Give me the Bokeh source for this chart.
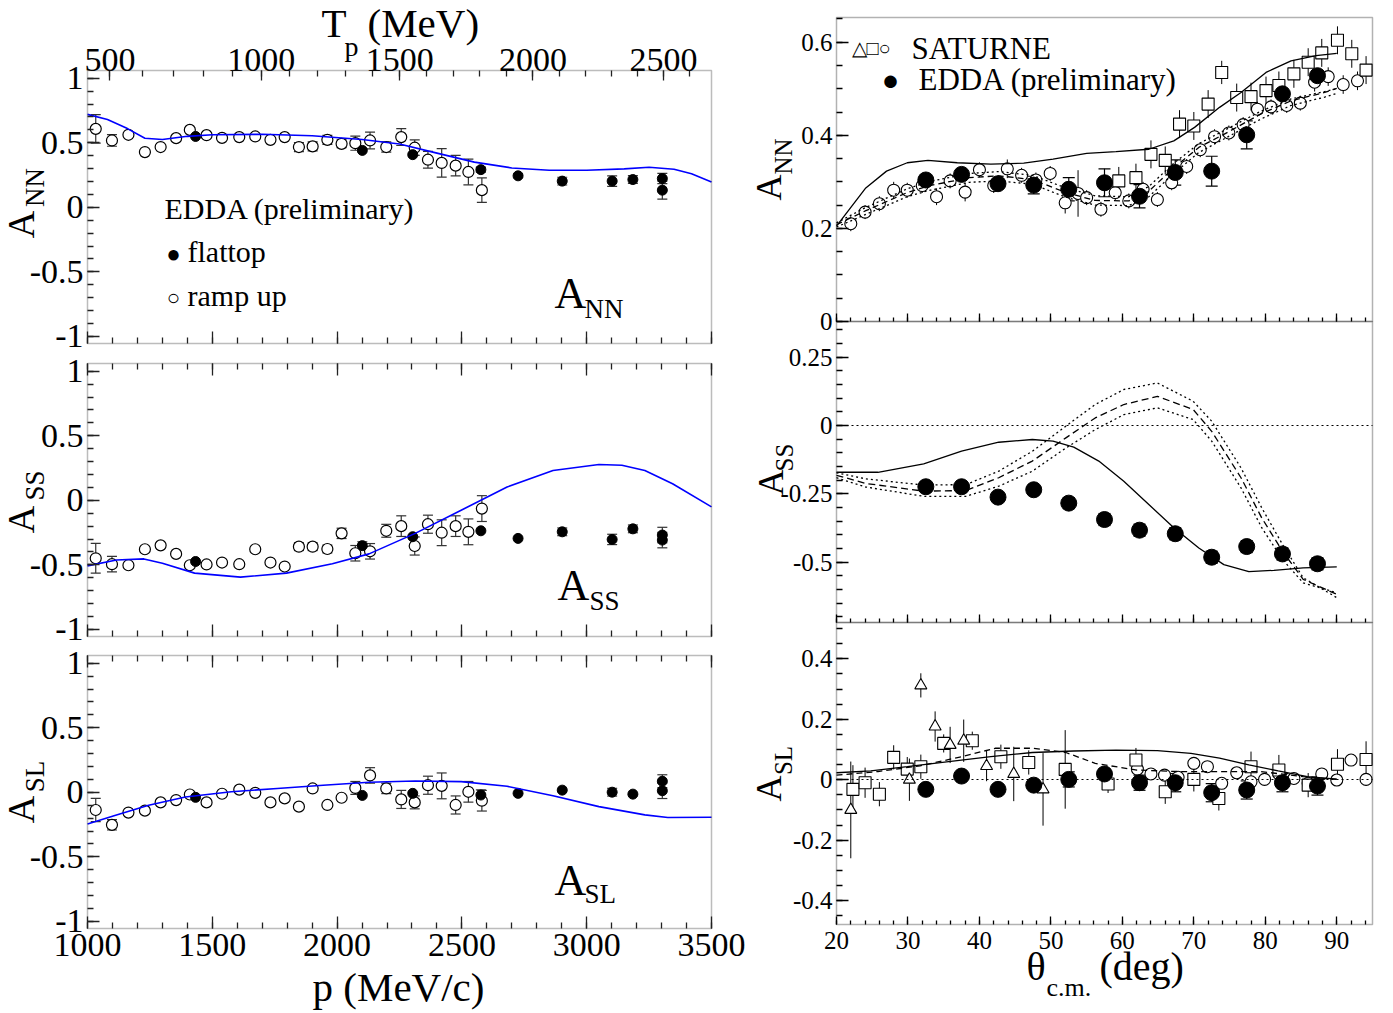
import math
from bokeh.plotting import figure
from bokeh.models import (Range1d, LinearAxis, FixedTicker, Whisker, TeeHead, ColumnDataSource,
                          Label, BoxAnnotation, CustomJSTickFormatter)
from bokeh.embed import file_html
from bokeh.resources import INLINE

FONT = "Liberation Serif"
M_P = 938.272

# ---------------- left column: vs beam momentum p (MeV/c) ----------------
p_ramp = [1033, 1098, 1164, 1230, 1293, 1355, 1410, 1477, 1539, 1608, 1672, 1733, 1790, 1847,
          1902, 1961, 2018, 2073, 2132, 2197, 2257, 2311, 2364, 2419, 2475, 2526, 2580]
ann_ramp = [0.608, 0.518, 0.562, 0.428, 0.467, 0.536, 0.600, 0.559, 0.538, 0.544, 0.549, 0.523, 0.544, 0.467,
            0.472, 0.523, 0.492, 0.497, 0.518, 0.467, 0.544, 0.462, 0.369, 0.344, 0.323, 0.274, 0.133]
ann_ramp_err = [0.11, 0.045, 0, 0, 0, 0, 0, 0, 0, 0, 0, 0, 0, 0.035,
                0.035, 0.035, 0.03, 0.055, 0.065, 0.04, 0.065, 0.06, 0.065, 0.11, 0.08, 0.10, 0.095]
ass_ramp = [-0.449, -0.495, -0.503, -0.379, -0.349, -0.415, -0.503, -0.497, -0.482, -0.495, -0.379, -0.482, -0.513, -0.359,
            -0.359, -0.377, -0.256, -0.410, -0.395, -0.236, -0.200, -0.354, -0.185, -0.251, -0.200, -0.244, -0.064]
ass_ramp_err = [0.115, 0.06, 0, 0, 0, 0, 0, 0, 0, 0, 0, 0, 0, 0.03,
                0.03, 0.03, 0.04, 0.06, 0.06, 0.05, 0.08, 0.07, 0.07, 0.10, 0.08, 0.10, 0.10]
asl_ramp = [-0.137, -0.252, -0.157, -0.142, -0.078, -0.060, -0.017, -0.078, -0.011, 0.021, -0.004, -0.078, -0.047, -0.111,
            0.030, -0.098, -0.042, 0.034, 0.131, 0.030, -0.055, -0.078, 0.055, 0.050, -0.098, 0.004, -0.065]
asl_ramp_err = [0.09, 0.04, 0, 0, 0, 0, 0, 0, 0, 0, 0, 0, 0, 0,
                0, 0, 0, 0.05, 0.06, 0.04, 0.07, 0.05, 0.07, 0.10, 0.07, 0.08, 0.08]

p_flat = [1433, 2101, 2303, 2576, 2725, 2902, 3102, 3185, 3303, 3303]
ann_flat = [0.549, 0.441, 0.408, 0.292, 0.244, 0.203, 0.203, 0.215, 0.223, 0.133]
ann_flat_err = [0, 0, 0, 0.02, 0.015, 0.03, 0.04, 0.03, 0.04, 0.07]
ass_flat = [-0.474, -0.351, -0.282, -0.236, -0.295, -0.244, -0.303, -0.221, -0.269, -0.308]
ass_flat_err = [0, 0.03, 0, 0, 0, 0.03, 0.04, 0.03, 0.06, 0.06]
asl_flat = [-0.039, -0.024, -0.008, -0.021, -0.008, 0.017, 0.001, -0.014, 0.086, 0.012]
asl_flat_err = [0, 0, 0, 0.04, 0, 0, 0.03, 0, 0.05, 0.06]

ann_curve_p = [1000, 1080, 1160, 1230, 1300, 1400, 1500, 1700, 1900, 2100, 2250, 2400, 2550, 2700,
               2850, 3000, 3150, 3250, 3350, 3420, 3500]
ann_curve = [0.72, 0.68, 0.61, 0.535, 0.525, 0.55, 0.562, 0.566, 0.555, 0.525, 0.49, 0.42, 0.35, 0.305,
             0.287, 0.287, 0.298, 0.31, 0.295, 0.26, 0.197]
ass_curve_p = [1000, 1116, 1226, 1300, 1429, 1613, 1797, 1981, 2128, 2313, 2497, 2681, 2865, 3049,
               3141, 3233, 3344, 3500]
ass_curve = [-0.508, -0.462, -0.454, -0.487, -0.564, -0.595, -0.564, -0.492, -0.415, -0.256, -0.077, 0.103,
             0.231, 0.277, 0.272, 0.231, 0.128, -0.051]
asl_curve_p = [1000, 1116, 1245, 1392, 1576, 1760, 1944, 2128, 2313, 2497, 2681, 2865, 3049, 3233, 3325, 3500]
asl_curve = [-0.245, -0.176, -0.100, -0.036, 0.004, 0.030, 0.055, 0.078, 0.088, 0.083, 0.047, -0.027,
             -0.111, -0.175, -0.195, -0.193]

p_major = [1000, 1500, 2000, 2500, 3000, 3500]
p_minor = list(range(1000, 3501, 100))
T_major = [500, 1000, 1500, 2000, 2500]
T_minor = list(range(400, 2801, 100))
a_major = [-1, -0.5, 0, 0.5, 1]
a_minor = [-1, -0.9, -0.8, -0.7, -0.6, -0.5, -0.4, -0.3, -0.2, -0.1, 0, 0.1, 0.2, 0.3, 0.4, 0.5,
           0.6, 0.7, 0.8, 0.9, 1]

# ---------------- right column: vs theta_cm (deg) ----------------
theta_edda = [32.5, 37.5, 42.6, 47.6, 52.5, 57.5, 62.4, 67.4, 72.5, 77.4, 82.4, 87.3]
ann_edda = [0.304, 0.316, 0.296, 0.293, 0.284, 0.298, 0.269, 0.320, 0.323, 0.401, 0.489, 0.528]
ann_edda_err = [0, 0, 0, 0.019, 0.025, 0.03, 0.025, 0.027, 0.032, 0.03, 0, 0]
ass_edda = [-0.224, -0.224, -0.262, -0.235, -0.284, -0.344, -0.383, -0.396, -0.482, -0.443, -0.470, -0.506]
ass_edda_err = [0, 0, 0, 0, 0.02, 0.022, 0.022, 0.022, 0.022, 0.022, 0.022, 0.022]
asl_edda = [-0.032, 0.012, -0.032, -0.018, 0.001, 0.019, -0.010, -0.010, -0.043, -0.034, -0.010, -0.021]
asl_edda_err = [0, 0, 0, 0, 0.025, 0, 0.025, 0.03, 0.03, 0.03, 0.03, 0.03]

theta_sat_c_ann = [22.0, 24.0, 26.0, 28.0, 29.9, 32.0, 34.0, 35.9, 38.0, 40.0, 42.0, 43.9, 45.9, 47.9, 49.9,
                   52.0, 53.8, 55.0, 57.0, 59.0, 60.9, 62.9, 64.9, 66.9, 69.0, 70.9, 72.9, 74.9, 76.9, 78.9,
                   80.8, 83.0, 84.9, 86.9, 88.8, 90.9, 92.9]
ann_sat_c = [0.210, 0.235, 0.253, 0.282, 0.282, 0.292, 0.268, 0.302, 0.278, 0.326, 0.292, 0.328, 0.314, 0.304, 0.318,
             0.255, 0.275, 0.266, 0.241, 0.277, 0.259, 0.284, 0.262, 0.298, 0.333, 0.369, 0.397, 0.405, 0.423, 0.456,
             0.461, 0.464, 0.469, 0.514, 0.526, 0.509, 0.517]
ann_sat_c_err = [0.016, 0.015, 0.016, 0.018, 0.016, 0.016, 0.018, 0.016, 0.02, 0.016, 0.016, 0.02, 0.016, 0.016, 0.016,
                 0.023, 0.05, 0.016, 0.016, 0.016, 0.016, 0.016, 0.016, 0.016, 0.016, 0.016, 0.016, 0.016, 0.016, 0.016,
                 0.016, 0.016, 0.016, 0.02, 0.02, 0.02, 0.02]
theta_sat_s_ann = [59.5, 61.9, 64.0, 66.0, 68.0, 70.0, 72.0, 73.9, 76.0, 78.0, 80.1, 81.9, 84.0, 86.0, 87.9,
                   90.1, 92.1, 94.1]
ann_sat_s = [0.302, 0.309, 0.359, 0.346, 0.424, 0.420, 0.467, 0.535, 0.481, 0.483, 0.496, 0.507, 0.532, 0.557,
             0.577, 0.604, 0.575, 0.540]
ann_sat_s_err = [0.03, 0.03, 0.03, 0.03, 0.03, 0.03, 0.03, 0.025, 0.03, 0.03, 0.03, 0.03, 0.03, 0.03, 0.03,
                 0.03, 0.03, 0.03]

th_ann_solid = [20, 24.1, 27, 29.9, 32.8, 36.9, 41.6, 46.2, 50.3, 55, 59.1, 63.7, 67.2, 70.1, 73.6, 76.6,
                80.1, 83.6, 87.1, 90]
ann_solid = [0.205, 0.287, 0.323, 0.341, 0.346, 0.341, 0.338, 0.340, 0.349, 0.361, 0.365, 0.370, 0.388, 0.417,
             0.460, 0.492, 0.535, 0.560, 0.571, 0.576]
th_ann_band = [20, 24.1, 29.9, 32.8, 38.6, 42.7, 47.4, 52.1, 56.2, 60.9, 63.7, 67.2, 70.7, 74.2, 79.4, 83.6, 88.3, 90]
ann_dash = [0.208, 0.238, 0.277, 0.291, 0.309, 0.313, 0.305, 0.277, 0.260, 0.259, 0.280, 0.330, 0.374, 0.402,
            0.446, 0.474, 0.492, 0.501]
ann_dot_hi = [0.212, 0.245, 0.285, 0.300, 0.318, 0.322, 0.314, 0.287, 0.270, 0.268, 0.290, 0.340, 0.382, 0.410,
              0.452, 0.478, 0.494, 0.500]
ann_dot_lo = [0.203, 0.230, 0.268, 0.281, 0.299, 0.302, 0.295, 0.267, 0.250, 0.249, 0.268, 0.318, 0.363, 0.392,
              0.435, 0.464, 0.482, 0.490]

th_ass_solid = [20, 25.8, 32.2, 37.5, 42.7, 47.4, 50.3, 53.2, 56.7, 60.2, 63.7, 67.2, 70.7, 74.2, 77.7, 81.2, 85.3, 90]
ass_solid = [-0.171, -0.171, -0.140, -0.094, -0.061, -0.051, -0.057, -0.079, -0.130, -0.204, -0.289, -0.374,
             -0.448, -0.509, -0.535, -0.530, -0.521, -0.517]
th_ass_band = [20, 24.1, 32.2, 38.1, 42.7, 47.4, 52.1, 56.2, 60.2, 64.9, 69.9, 72.5, 76.6, 79.5, 82.4, 85.3, 90]
ass_dash = [-0.182, -0.212, -0.240, -0.238, -0.191, -0.130, -0.045, 0.028, 0.077, 0.107, 0.059, -0.021,
            -0.191, -0.338, -0.460, -0.563, -0.618]
ass_dot_hi = [-0.173, -0.195, -0.218, -0.216, -0.167, -0.094, -0.002, 0.077, 0.132, 0.156, 0.089, 0.016,
              -0.155, -0.301, -0.435, -0.557, -0.630]
ass_dot_lo = [-0.191, -0.225, -0.259, -0.259, -0.222, -0.167, -0.082, -0.015, 0.040, 0.065, 0.022, -0.057,
              -0.228, -0.374, -0.490, -0.576, -0.612]

theta_sat_t_asl = [22.0, 30.2, 31.8, 33.8, 35.9, 37.8, 41.0, 44.8, 48.9]
asl_sat_t = [-0.100, 0.000, 0.312, 0.176, 0.115, 0.129, 0.045, 0.019, -0.032]
asl_sat_t_err = [0.16, 0.07, 0.04, 0.05, 0.06, 0.07, 0.05, 0.09, 0.12]
theta_sat_s_asl = [22.3, 24.0, 26.0, 28.0, 29.9, 31.8, 35.0, 39.0, 43.0, 46.9, 52.0, 58.0, 61.9, 66.0, 70.0,
                   73.5, 78.0, 81.9, 86.0, 90.1, 94.1]
asl_sat_s = [-0.032, -0.010, -0.048, 0.074, 0.035, 0.043, 0.120, 0.129, 0.076, 0.057, 0.034, -0.014, 0.065,
             -0.040, 0.001, -0.062, 0.043, 0.032, -0.018, 0.051, 0.067]
asl_sat_s_err = [0.08, 0.05, 0.04, 0.04, 0.04, 0.04, 0.03, 0.03, 0.04, 0.04, 0.13, 0.03, 0.04, 0.04, 0.04,
                 0.04, 0.05, 0.05, 0.04, 0.05, 0.06]
theta_sat_c_asl = [62.1, 64.0, 65.9, 67.8, 70.0, 71.9, 73.9, 76.0, 78.0, 79.9, 81.9, 84.0, 86.0, 87.9, 90.0, 92.0, 94.1]
asl_sat_c = [0.035, 0.019, 0.015, 0.008, 0.054, 0.043, -0.012, 0.023, -0.007, 0.001, 0.019, 0.004, -0.012,
             0.019, -0.001, 0.065, 0.001]
asl_sat_c_err = [0.012, 0.01, 0.01, 0.01, 0.012, 0.01, 0.012, 0.01, 0.012, 0.01, 0.01, 0.01, 0.01, 0.01, 0.012,
                 0.01, 0.02]

th_asl_solid = [20, 24.8, 29.9, 35.7, 41.6, 47.4, 53.2, 59.1, 64.9, 69.6, 73.6, 77.7, 81.8, 85.9, 90]
asl_solid = [0.023, 0.029, 0.043, 0.060, 0.076, 0.090, 0.095, 0.098, 0.096, 0.087, 0.071, 0.049, 0.029, 0.010, 0.002]
th_asl_dash = [20, 25.8, 31.7, 37.5, 42.2, 47.4, 52.1, 56.2, 62, 67.8, 73.6, 79.4, 85.3, 90]
asl_dash = [0.015, 0.027, 0.046, 0.076, 0.104, 0.104, 0.090, 0.054, 0.032, 0.027, 0.027, 0.027, 0.010, 0.001]

th_major = [20, 30, 40, 50, 60, 70, 80, 90]
th_minor = list(range(20, 96, 2))
ann_r_major = [0, 0.2, 0.4, 0.6]
ann_r_minor = [0, 0.05, 0.1, 0.15, 0.2, 0.25, 0.3, 0.35, 0.4, 0.45, 0.5, 0.55, 0.6, 0.65]
ass_r_major = [-0.5, -0.25, 0, 0.25]
ass_r_minor = [-0.7, -0.65, -0.6, -0.55, -0.5, -0.45, -0.4, -0.35, -0.3, -0.25, -0.2, -0.15, -0.1, -0.05,
               0, 0.05, 0.1, 0.15, 0.2, 0.25, 0.3, 0.35]
asl_r_major = [-0.4, -0.2, 0, 0.2, 0.4]
asl_r_minor = [-0.45, -0.4, -0.35, -0.3, -0.25, -0.2, -0.15, -0.1, -0.05, 0, 0.05, 0.1, 0.15, 0.2, 0.25,
               0.3, 0.35, 0.4, 0.45, 0.5]

# ---------------- page geometry (pixels) ----------------
W, H = 1392, 1012
LX = (87, 711)
LY = [(70, 343), (363, 636), (655, 928)]
RX = (836, 1372)
RY = [(17, 321), (321, 622), (622, 924)]
L_XD = (1000, 3500)
L_YD = (-1.055, 1.06)
R_XD = (20, 95)
R_YD = [(0, 0.653), (-0.721, 0.381), (-0.479, 0.52)]


def xrange_for(d, box):
    u = (d[1] - d[0]) / (box[1] - box[0])
    return Range1d(d[0] - box[0] * u, d[1] + (W - box[1]) * u)


def yrange_for(d, box):
    u = (d[1] - d[0]) / (box[1] - box[0])
    return Range1d(d[0] - (H - box[1]) * u, d[1] + box[0] * u)


def p_of_T(T):
    return math.sqrt(T * T + 2 * M_P * T)


f = figure(width=W, height=H, x_range=Range1d(0, W), y_range=Range1d(H, 0),
           x_axis_location=None, y_axis_location=None, output_backend="svg", toolbar_location=None,
           min_border=0, min_border_left=0, min_border_right=0, min_border_top=0, min_border_bottom=0,
           background_fill_color="white", border_fill_color="white", outline_line_color=None)
f.grid.visible = False

YN_L = ["ann_l", "ass_l", "asl_l"]
YN_R = ["ann_r", "ass_r", "asl_r"]
f.extra_x_ranges = {"p": xrange_for(L_XD, LX), "th": xrange_for(R_XD, RX)}
f.extra_y_ranges = {**{n: yrange_for(L_YD, b) for n, b in zip(YN_L, LY)},
                    **{n: yrange_for(d, b) for n, d, b in zip(YN_R, R_YD, RY)}}

PLAIN = CustomJSTickFormatter(code="return tick.toString();")


def tick_axis(side, xn, yn, loc, bounds, positions, length, color, dash=None, lw=1.3):
    ax = LinearAxis(x_range_name=xn, y_range_name=yn, fixed_location=loc, bounds=bounds,
                    ticker=FixedTicker(ticks=[], minor_ticks=positions))
    ax.major_tick_in = 0
    ax.major_tick_out = 0
    ax.minor_tick_in = length
    ax.minor_tick_out = 0
    ax.minor_tick_line_color = color
    ax.minor_tick_line_width = 1.3
    if dash is None:
        ax.axis_line_color = None
    else:
        ax.axis_line_color = color
        ax.axis_line_dash = dash
        ax.axis_line_width = lw
    f.add_layout(ax, side)


def label_axis(side, xn, yn, loc, bounds, majors, minors, tin, tmin, size, standoff, color, fmt):
    ax = LinearAxis(x_range_name=xn, y_range_name=yn, fixed_location=loc, bounds=bounds,
                    ticker=FixedTicker(ticks=majors, minor_ticks=minors), formatter=fmt)
    ax.major_tick_in = tin
    ax.major_tick_out = 0
    ax.minor_tick_in = tmin
    ax.minor_tick_out = 0
    ax.major_tick_line_color = color
    ax.minor_tick_line_color = color
    ax.major_tick_line_width = 1.3
    ax.minor_tick_line_width = 1.3
    ax.axis_line_color = None
    ax.major_label_text_font = FONT
    ax.major_label_text_font_size = f"{size}px"
    ax.major_label_text_color = "black"
    ax.major_label_standoff = standoff
    f.add_layout(ax, side)


def frame_box(xb, yb, color):
    f.add_layout(BoxAnnotation(left=xb[0], right=xb[1], top=yb[0], bottom=yb[1], fill_color=None,
                               line_color=color, line_width=1.5))


def txt(x, y, s, size, align="left", angle=0.0):
    f.add_layout(Label(x=x, y=y, text=s, text_font=FONT, text_font_size=f"{size}px",
                       text_align=align, text_baseline="middle", angle=angle, text_color="black"))


def whiskers(xn, yn, xs, ys, es, color, cap):
    keep = [(x, y, e) for x, y, e in zip(xs, ys, es) if e > 0]
    src = ColumnDataSource(dict(x=[k[0] for k in keep], lo=[k[1] - k[2] for k in keep],
                                hi=[k[1] + k[2] for k in keep]))
    f.add_layout(Whisker(source=src, base="x", lower="lo", upper="hi", line_color=color, line_width=1.2,
                         level="underlay", x_range_name=xn, y_range_name=yn,
                         upper_head=TeeHead(size=cap, line_color=color, line_width=1.2),
                         lower_head=TeeHead(size=cap, line_color=color, line_width=1.2)))


def bars(xn, yn, xs, ys, es):
    f.segment(x0=xs, x1=xs, y0=[y - e for y, e in zip(ys, es)], y1=[y + e for y, e in zip(ys, es)],
              line_color="black", line_width=1.0, x_range_name=xn, y_range_name=yn)


# ---------------- left column ----------------
LC = "#222"
T_fmt = CustomJSTickFormatter(code="const m = 938.272; return Math.round(Math.sqrt(tick*tick + m*m) - m).toString();")
left_sets = [
    (ann_ramp, ann_ramp_err, ann_flat, ann_flat_err, ann_curve_p, ann_curve),
    (ass_ramp, ass_ramp_err, ass_flat, ass_flat_err, ass_curve_p, ass_curve),
    (asl_ramp, asl_ramp_err, asl_flat, asl_flat_err, asl_curve_p, asl_curve),
]
for i, (yn, (ramp, ramp_e, flat, flat_e, cp, cv)) in enumerate(zip(YN_L, left_sets)):
    whiskers("p", yn, p_ramp, ramp, ramp_e, "#333", 10)
    whiskers("p", yn, p_flat, flat, flat_e, "#333", 10)
    f.scatter(p_ramp, ramp, marker="circle", size=11, fill_color="white", line_color="black", line_width=1.2,
              x_range_name="p", y_range_name=yn)
    f.scatter(p_flat, flat, marker="circle", size=10, fill_color="black", line_color="black",
              x_range_name="p", y_range_name=yn)
    f.line(cp, cv, line_color="#0000ff", line_width=1.6, x_range_name="p", y_range_name=yn)
    label_axis("left", "p", yn, L_XD[0], L_YD, a_major, a_minor, 12, 6, 34, 4, LC, PLAIN)
    if i == 2:
        label_axis("below", "p", yn, L_YD[0], L_XD, p_major, p_minor, 12, 6, 34, 5, LC, PLAIN)
    else:
        tick_axis("below", "p", yn, L_YD[0], L_XD, p_minor, 6, LC)
        tick_axis("below", "p", yn, L_YD[0], L_XD, p_major, 12, LC)
    if i == 0:
        tmaj = [p_of_T(t) for t in T_major]
        tmin = [p_of_T(t) for t in T_minor if L_XD[0] <= p_of_T(t) <= L_XD[1]]
        label_axis("above", "p", yn, L_YD[1], L_XD, tmaj, tmin, 10, 6, 34, 0, LC, T_fmt)
    else:
        tick_axis("above", "p", yn, L_YD[1], L_XD, p_minor, 6, LC)
        tick_axis("above", "p", yn, L_YD[1], L_XD, p_major, 12, LC)
    frame_box(LX, LY[i], LC)

ROT = math.pi / 2
# T_p axis title
txt(321, 22, "T", 41)
txt(344, 46, "p", 28)
txt(367, 22, "(MeV)", 41)
# legend
txt(164, 208, "EDDA (preliminary)", 30)
txt(173, 253, "●", 24, align="center")
txt(187, 251, "flattop", 30)
txt(173, 297, "○", 22, align="center")
txt(187, 295, "ramp up", 30)
# panel tags
txt(554, 293, "A", 44)
txt(584, 308, "NN", 27)
txt(557, 585, "A", 44)
txt(589, 600, "SS", 27)
txt(554, 880, "A", 44)
txt(584, 893, "SL", 27)
# y titles
txt(20, 224, "A", 38, align="center", angle=ROT)
txt(34, 187, "NN", 27, align="center", angle=ROT)
txt(20, 519, "A", 38, align="center", angle=ROT)
txt(34, 485, "SS", 27, align="center", angle=ROT)
txt(20, 809, "A", 38, align="center", angle=ROT)
txt(34, 776, "SL", 27, align="center", angle=ROT)
# x title
txt(398, 986, "p (MeV/c)", 41, align="center")

# ---------------- right column ----------------
RC = "black"
r_ticks = [(ann_r_major, ann_r_minor), (ass_r_major, ass_r_minor), (asl_r_major, asl_r_minor)]
for i, yn in enumerate(YN_R):
    majors, minors = r_ticks[i]
    label_axis("left", "th", yn, R_XD[0], R_YD[i], majors, minors, 12, 6, 25, 4, RC, PLAIN)
    if i == 2:
        label_axis("below", "th", yn, R_YD[i][0], R_XD, th_major, th_minor, 8, 4, 25, 7, RC, PLAIN)
    else:
        tick_axis("below", "th", yn, R_YD[i][0], R_XD, th_minor, 4, RC)
        tick_axis("below", "th", yn, R_YD[i][0], R_XD, th_major, 8, RC)
    frame_box(RX, RY[i], RC)

# A_NN (theta)
bars("th", "ann_r", theta_sat_c_ann, ann_sat_c, ann_sat_c_err)
bars("th", "ann_r", theta_sat_s_ann, ann_sat_s, ann_sat_s_err)
whiskers("th", "ann_r", theta_edda, ann_edda, ann_edda_err, "black", 12)
f.scatter(theta_sat_c_ann, ann_sat_c, marker="circle", size=12, fill_color="white", line_color="black",
          line_width=1.1, x_range_name="th", y_range_name="ann_r")
f.scatter(theta_sat_s_ann, ann_sat_s, marker="square", size=12, fill_color="white", line_color="black",
          line_width=1.1, x_range_name="th", y_range_name="ann_r")
f.line(th_ann_solid, ann_solid, line_color="black", line_width=1.3, x_range_name="th", y_range_name="ann_r")
f.line(th_ann_band, ann_dash, line_color="black", line_width=1.3, line_dash="6 4", x_range_name="th", y_range_name="ann_r")
f.line(th_ann_band, ann_dot_hi, line_color="black", line_width=1.3, line_dash="2 3", x_range_name="th", y_range_name="ann_r")
f.line(th_ann_band, ann_dot_lo, line_color="black", line_width=1.3, line_dash="2 3", x_range_name="th", y_range_name="ann_r")
f.scatter(theta_edda, ann_edda, marker="circle", size=16, fill_color="black", line_color="black",
          x_range_name="th", y_range_name="ann_r")

# A_SS (theta)
tick_axis("below", "th", "ass_r", 0, R_XD, [], 0, RC, dash="2 3", lw=1.1)
whiskers("th", "ass_r", theta_edda, ass_edda, ass_edda_err, "black", 12)
f.line(th_ass_solid, ass_solid, line_color="black", line_width=1.3, x_range_name="th", y_range_name="ass_r")
f.line(th_ass_band, ass_dash, line_color="black", line_width=1.3, line_dash="7 4", x_range_name="th", y_range_name="ass_r")
f.line(th_ass_band, ass_dot_hi, line_color="black", line_width=1.3, line_dash="2 3", x_range_name="th", y_range_name="ass_r")
f.line(th_ass_band, ass_dot_lo, line_color="black", line_width=1.3, line_dash="2 3", x_range_name="th", y_range_name="ass_r")
f.scatter(theta_edda, ass_edda, marker="circle", size=16, fill_color="black", line_color="black",
          x_range_name="th", y_range_name="ass_r")

# A_SL (theta)
tick_axis("below", "th", "asl_r", 0, R_XD, [], 0, RC, dash="2 3", lw=1.1)
bars("th", "asl_r", theta_sat_t_asl, asl_sat_t, asl_sat_t_err)
bars("th", "asl_r", theta_sat_s_asl, asl_sat_s, asl_sat_s_err)
bars("th", "asl_r", theta_sat_c_asl, asl_sat_c, asl_sat_c_err)
whiskers("th", "asl_r", theta_edda, asl_edda, asl_edda_err, "black", 12)
f.scatter(theta_sat_c_asl, asl_sat_c, marker="circle", size=12, fill_color="white", line_color="black",
          line_width=1.1, x_range_name="th", y_range_name="asl_r")
f.scatter(theta_sat_s_asl, asl_sat_s, marker="square", size=12, fill_color="white", line_color="black",
          line_width=1.1, x_range_name="th", y_range_name="asl_r")
f.scatter(theta_sat_t_asl, asl_sat_t, marker="triangle", size=12, fill_color="white", line_color="black",
          line_width=1.1, x_range_name="th", y_range_name="asl_r")
f.line(th_asl_solid, asl_solid, line_color="black", line_width=1.3, x_range_name="th", y_range_name="asl_r")
f.line(th_asl_dash, asl_dash, line_color="black", line_width=1.3, line_dash="6 4", x_range_name="th", y_range_name="asl_r")
f.scatter(theta_edda, asl_edda, marker="circle", size=16, fill_color="black", line_color="black",
          x_range_name="th", y_range_name="asl_r")

# right texts
txt(851, 47, "△□○", 20)
txt(911, 48, "SATURNE", 31)
txt(890, 79, "●", 29, align="center")
txt(918, 79, "EDDA (preliminary)", 31)
txt(768, 187, "A", 36, align="center", angle=ROT)
txt(783, 156, "NN", 25, align="center", angle=ROT)
txt(770, 482, "A", 36, align="center", angle=ROT)
txt(784, 457, "SS", 25, align="center", angle=ROT)
txt(768, 788, "A", 36, align="center", angle=ROT)
txt(783, 760, "SL", 25, align="center", angle=ROT)
txt(1026, 966, "θ", 40)
txt(1046, 987, "c.m.", 26)
txt(1099, 966, "(deg)", 40)

open("out.html", "w").write(file_html(f, INLINE))
